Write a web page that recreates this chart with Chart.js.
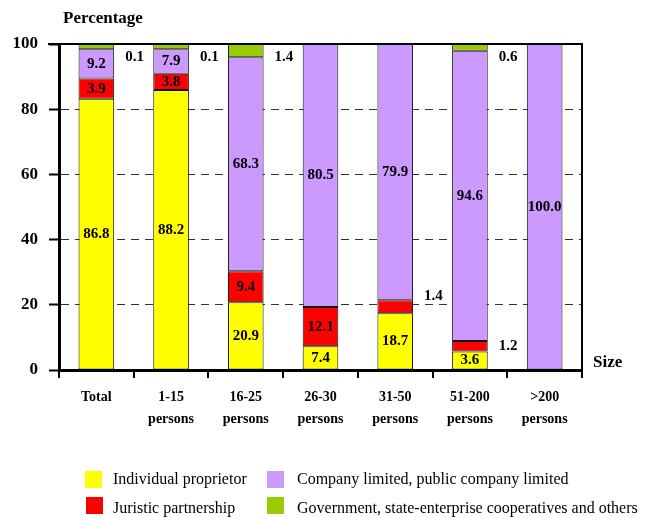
<!DOCTYPE html>
<html>
<head>
<meta charset="utf-8">
<script src="https://cdn.jsdelivr.net/npm/chart.js@4.4.0/dist/chart.umd.min.js"></script>
<style>
  html, body { margin: 0; padding: 0; background: #fff; }
  #wrap { width: 646px; height: 518px; position: relative; }
</style>
</head>
<body>
<div id="wrap"><canvas id="c" width="646" height="518"></canvas></div>
<script>
// ---- data ----
const categories = [['Total'], ['1-15', 'persons'], ['16-25', 'persons'], ['26-30', 'persons'], ['31-50', 'persons'], ['51-200', 'persons'], ['>200', 'persons']];
const seriesNames = ['Individual proprietor', 'Juristic partnership', 'Company limited, public company limited', 'Government, state-enterprise cooperatives and others'];
const individualValues = [83.2, 85.9, 20.8, 7.3, 17.4, 5.7, null];
const juristicValues   = [6.2, 5.0, 9.5, 12.0, 4.0, 3.2, null];
const companyValues    = [9.0, 7.5, 65.6, 80.7, 78.6, 89.0, 100];
const governmentValues = [1.6, 1.6, 4.1, null, null, 2.1, null];
const individualLabels = ['86.8', '88.2', '20.9', '7.4', '18.7', '3.6', ''];
const juristicLabels   = ['3.9', '3.8', '9.4', '12.1', '1.4', '1.2', ''];
const companyLabels    = ['9.2', '7.9', '68.3', '80.5', '79.9', '94.6', '100.0'];
const governmentLabels = ['0.1', '0.1', '1.4', '', '', '0.6', ''];
const yTicks = [0, 20, 40, 60, 80, 100];

// ---- styles ----
const colors = ['#FFFF00', '#FF0000', '#CC99FF', '#99CC00'];
const SERIF = '"Liberation Serif", "Times New Roman", serif';
const valueArrays = [individualValues, juristicValues, companyValues, governmentValues];
const labelArrays = [individualLabels, juristicLabels, companyLabels, governmentLabels];

const datasets = valueArrays.map((vals, i) => ({
  label: seriesNames[i],
  data: vals,
  backgroundColor: colors[i],
  borderColor: '#111',
  borderWidth: 1,
  borderSkipped: false,
  categoryPercentage: 1.0,
  barPercentage: 0.477
}));

const valueLabelPlugin = {
  id: 'valueLabels',
  afterDatasetsDraw(chart) {
    const ctx = chart.ctx;
    const area = chart.chartArea;
    const yScale = chart.scales.y;
    const gridYs = yTicks.slice(1, -1).map(v => yScale.getPixelForValue(v));
    ctx.save();
    ctx.font = 'bold 15px ' + SERIF;
    ctx.fillStyle = '#000';
    ctx.textBaseline = 'middle';
    chart.data.datasets.forEach((ds, di) => {
      const meta = chart.getDatasetMeta(di);
      meta.data.forEach((bar, idx) => {
        const txt = labelArrays[di][idx];
        if (!txt || ds.data[idx] == null) return;
        const p = bar.getProps(['x', 'y', 'base', 'width'], true);
        const h = Math.abs(p.base - p.y);
        const cy = (p.y + p.base) / 2;
        if (h >= 15) {
          ctx.textAlign = 'center';
          ctx.fillText(txt, p.x, cy);
        } else {
          let ty = Math.max(cy, area.top + 13);
          gridYs.forEach(g => { if (Math.abs(ty - g) < 8) ty = g - 9; });
          ctx.textAlign = 'left';
          ctx.fillText(txt, p.x + p.width / 2 + 11, ty);
        }
      });
    });
    ctx.restore();
  }
};

const framePlugin = {
  id: 'frame',
  afterDraw(chart) {
    const ctx = chart.ctx;
    const a = chart.chartArea;
    ctx.save();
    ctx.strokeStyle = '#000';
    ctx.lineWidth = 2;
    ctx.beginPath();
    ctx.moveTo(a.left - 11, a.top);
    ctx.lineTo(a.right, a.top);
    ctx.lineTo(a.right, a.bottom);
    ctx.stroke();
    // axis titles
    ctx.fillStyle = '#000';
    ctx.font = 'bold 17px ' + SERIF;
    ctx.textBaseline = 'middle';
    ctx.textAlign = 'left';
    ctx.fillText('Percentage', a.left + 4, 19);
    ctx.fillText('Size', a.right + 11, a.bottom - 7);
    // legend
    const items = [
      { box: [85, 471], text: [113, 480], i: 0 },
      { box: [267, 471], text: [297, 480], i: 2 },
      { box: [86, 497], text: [113, 509], i: 1 },
      { box: [267, 497], text: [297, 509], i: 3 }
    ];
    ctx.font = '16px ' + SERIF;
    items.forEach(it => {
      ctx.fillStyle = colors[it.i];
      ctx.fillRect(it.box[0], it.box[1], 17, 17);
      ctx.fillStyle = '#000';
      ctx.fillText(seriesNames[it.i], it.text[0], it.text[1]);
    });
    ctx.restore();
  }
};

new Chart(document.getElementById('c'), {
  type: 'bar',
  data: { labels: categories, datasets },
  options: {
    responsive: false,
    animation: false,
    devicePixelRatio: 1,
    layout: { padding: { left: 0, top: 44, right: 64, bottom: 0 } },
    plugins: { legend: { display: false }, tooltip: { enabled: false } },
    scales: {
      x: {
        stacked: true,
        afterFit(scale) { scale.height = 148; },
        grid: {
          display: true, offset: true, drawOnChartArea: false, drawTicks: true,
          tickLength: 8, color: '#000', lineWidth: 2, tickBorderDash: []
        },
        border: { display: true, color: '#000', width: 3 },
        ticks: {
          color: '#000', padding: 8, maxRotation: 0, autoSkip: false,
          font: { family: SERIF, size: 14, weight: 'bold', lineHeight: 1.6 }
        }
      },
      y: {
        stacked: true,
        min: 0, max: 100,
        afterFit(scale) { scale.width = 59; },
        afterBuildTicks(scale) { scale.ticks = yTicks.map(v => ({ value: v })); },
        grid: {
          display: true, drawOnChartArea: true, drawTicks: true,
          tickLength: 10, tickWidth: 2, tickColor: '#000', tickBorderDash: [],
          lineWidth: 1,
          color: (c) => (c.tick && (c.tick.value === 0 || c.tick.value === 100)) ? 'rgba(0,0,0,0)' : '#333'
        },
        border: { display: true, color: '#000', width: 3, dash: [8, 6] },
        ticks: {
          color: '#000', padding: 11,
          font: { family: SERIF, size: 17, weight: 'bold' }
        }
      }
    }
  },
  plugins: [valueLabelPlugin, framePlugin]
});
</script>
</body>
</html>
